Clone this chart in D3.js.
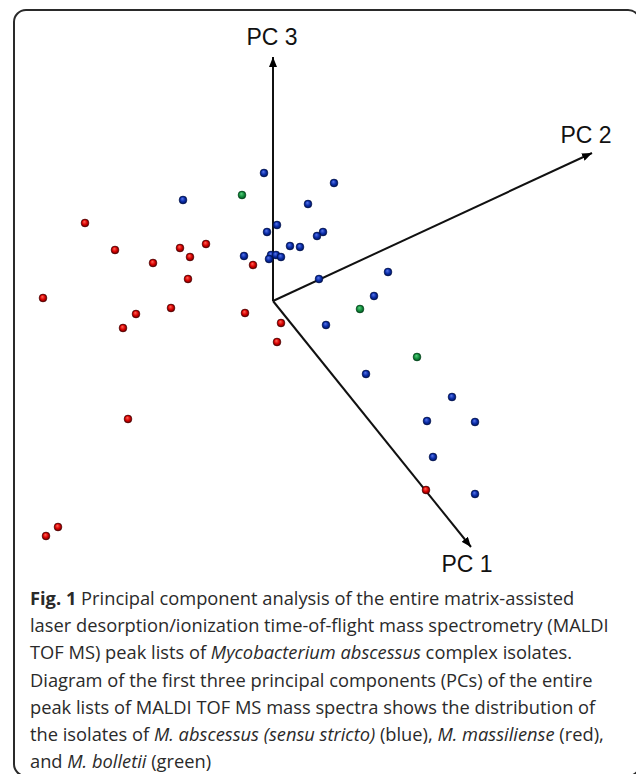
<!DOCTYPE html>
<html>
<head>
<meta charset="UTF-8">
<script src="https://d3js.org/d3.v7.min.js"></script>
<style>
  body { margin: 0; background: #fff; }
  svg { display: block; }
</style>
</head>
<body>
<script>
// projected PCA scores (plot units, origin = 0,0)
var massiliense = [
  [-18.8, 7.8], [-15.8, 5.1], [-12.0, 3.8], [-9.3, 5.3], [-8.3, 4.4], [-6.7, 5.7],
  [-8.5, 2.2], [-23.0, 0.3], [-13.7, -1.3], [-10.2, -0.7], [-15.0, -2.7], [-2.8, -1.2],
  [-2.0, 3.6], [0.8, -2.2], [0.4, -4.1], [-14.5, -11.8], [-21.5, -22.6], [-22.7, -23.5],
  [15.3, -18.9]
];
var abscessus = [
  [-0.9, 12.8], [6.1, 11.8], [-9.0, 10.1], [3.5, 9.7], [0.4, 7.6], [-0.6, 6.9],
  [5.0, 6.9], [4.4, 6.5], [1.7, 5.5], [2.7, 5.4], [-2.9, 4.5], [-0.2, 4.6],
  [0.3, 4.6], [0.8, 4.4], [-0.4, 4.2], [4.6, 2.2], [11.5, 2.9], [10.1, 0.5],
  [5.3, -2.4], [9.3, -7.3], [17.9, -9.6], [15.4, -12.0], [20.2, -12.1], [16.0, -15.6],
  [20.2, -19.3]
];
var bolletii = [[-3.1, 10.6], [8.7, -0.8], [14.4, -5.6]];

// axis directions of the first three PCs in the projection
var axisNames = ["PC 1", "PC 2", "PC 3"];
var axisEnds = [[19.8, -24.6], [31.9, 14.8], [0, 24.4]];

var width = 636, height = 774;
var origin = { x: 273, y: 301 };

var x = d3.scaleLinear().domain([-10, 10]).range([origin.x - 100, origin.x + 100]);
var y = d3.scaleLinear().domain([-10, 10]).range([origin.y + 100, origin.y - 100]);

var svg = d3.select("body").append("svg")
  .attr("width", width)
  .attr("height", height);

svg.append("rect").attr("width", width).attr("height", height).attr("fill", "#fff");

// frame
svg.append("rect")
  .attr("x", 14).attr("y", 10)
  .attr("width", 626).attr("height", 766)
  .attr("rx", 12)
  .attr("fill", "none")
  .attr("stroke", "#2a2a2a")
  .attr("stroke-width", 2);

var defs = svg.append("defs");

defs.append("marker")
  .attr("id", "arrow")
  .attr("viewBox", "0 0 10 8")
  .attr("refX", 10).attr("refY", 4)
  .attr("markerUnits", "userSpaceOnUse")
  .attr("markerWidth", 10).attr("markerHeight", 8)
  .attr("orient", "auto")
  .append("path")
  .attr("d", "M0,0 L10,4 L0,8 Z")
  .attr("fill", "#000");

// glossy ball gradients
var balls = [
  { id: "gRed", hi: "#ff6a5a", mid: "#d80000", lo: "#4a0000", data: massiliense },
  { id: "gBlue", hi: "#5a78ea", mid: "#0a2ca8", lo: "#00104a", data: abscessus },
  { id: "gGreen", hi: "#5ccf80", mid: "#14903e", lo: "#003f18", data: bolletii }
];
balls.forEach(function (b) {
  var g = defs.append("radialGradient")
    .attr("id", b.id)
    .attr("cx", "50%").attr("cy", "50%").attr("r", "55%")
    .attr("fx", "40%").attr("fy", "32%");
  g.append("stop").attr("offset", "0%").attr("stop-color", b.hi);
  g.append("stop").attr("offset", "55%").attr("stop-color", b.mid);
  g.append("stop").attr("offset", "100%").attr("stop-color", b.lo);
});

// axes
svg.append("g").selectAll("line")
  .data(axisEnds)
  .join("line")
  .attr("x1", x(0)).attr("y1", y(0))
  .attr("x2", function (d) { return x(d[0]); })
  .attr("y2", function (d) { return y(d[1]); })
  .attr("stroke", "#111")
  .attr("stroke-width", 2)
  .attr("marker-end", "url(#arrow)");

// axis labels, placed just beyond each arrow tip
var labelOffsets = [[-4, 25], [-6, -10], [-1, -12]];
svg.append("g").selectAll("text")
  .data(axisEnds)
  .join("text")
  .attr("x", function (d, i) { return x(d[0]) + labelOffsets[i][0]; })
  .attr("y", function (d, i) { return y(d[1]) + labelOffsets[i][1]; })
  .attr("text-anchor", "middle")
  .attr("font-family", "Liberation Sans, Arial, sans-serif")
  .attr("font-size", 23)
  .attr("fill", "#111")
  .text(function (d, i) { return axisNames[i]; });

// points
balls.forEach(function (b) {
  svg.append("g").selectAll("circle")
    .data(b.data)
    .join("circle")
    .attr("cx", function (d) { return x(d[0]); })
    .attr("cy", function (d) { return y(d[1]); })
    .attr("r", 3.9)
    .attr("fill", "url(#" + b.id + ")")
    .attr("stroke", b.lo)
    .attr("stroke-width", 0.6);
});

// caption
var caption = [
  [["Fig. 1", "b"], [" Principal component analysis of the entire matrix-assisted", ""]],
  [["laser desorption/ionization time-of-flight mass spectrometry (MALDI", ""]],
  [["TOF MS) peak lists of ", ""], ["Mycobacterium abscessus", "i"], [" complex isolates.", ""]],
  [["Diagram of the first three principal components (PCs) of the entire", ""]],
  [["peak lists of MALDI TOF MS mass spectra shows the distribution of", ""]],
  [["the isolates of ", ""], ["M. abscessus (sensu stricto)", "i"], [" (blue), ", ""], ["M. massiliense", "i"], [" (red),", ""]],
  [["and ", ""], ["M. bolletii", "i"], [" (green)", ""]]
];

var cap = svg.append("g")
  .attr("font-family", "Open Sans, Noto Sans, sans-serif")
  .attr("font-size", 18.3)
  .attr("fill", "#2a2a2a");

caption.forEach(function (line, i) {
  var t = cap.append("text")
    .attr("x", 30)
    .attr("y", 605 + i * 27.2);
  line.forEach(function (seg) {
    t.append("tspan")
      .attr("font-weight", seg[1] === "b" ? "bold" : null)
      .attr("font-style", seg[1] === "i" ? "italic" : null)
      .text(seg[0]);
  });
});
</script>
</body>
</html>
